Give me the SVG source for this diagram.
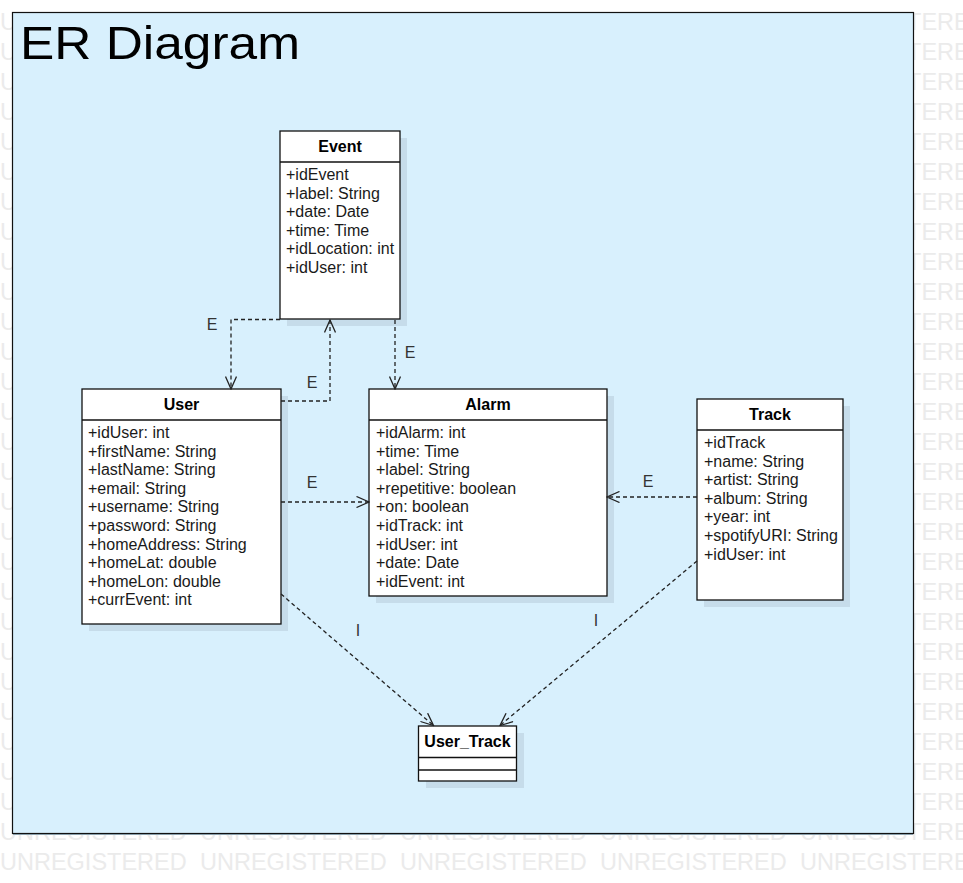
<svg xmlns="http://www.w3.org/2000/svg" xmlns:xlink="http://www.w3.org/1999/xlink" width="963" height="883" viewBox="0 0 963 883">
<style>
.wm{font-family:"Liberation Sans",Arial,sans-serif;font-size:23.5px;fill:#ebebeb}
.title{font-family:"Liberation Sans",Arial,sans-serif;font-size:47px;fill:#000}
.hdr{font-family:"Liberation Sans",Arial,sans-serif;font-size:16px;font-weight:bold;fill:#000;text-anchor:middle}
.att{font-family:"Liberation Sans",Arial,sans-serif;font-size:16px;fill:#1a1a1a}
.lbl{font-family:"Liberation Sans",Arial,sans-serif;font-size:16px;fill:#333;text-anchor:middle}
.box{fill:#fff;stroke:#111;stroke-width:1.3}
.div{stroke:#111;stroke-width:1.3;fill:none}
.sh{fill:#c6dcea}
.con{fill:none;stroke:#222;stroke-width:1.3;stroke-dasharray:4 3}
.ah{fill:none;stroke:#222;stroke-width:1.3;stroke-dasharray:none}
</style>
<defs>
<marker id="open" viewBox="0 0 14 12" refX="13" refY="6" markerWidth="14" markerHeight="12" markerUnits="userSpaceOnUse" orient="auto">
<path class="ah" d="M0.5,0.5 L13,6 L0.5,11.5"/>
</marker>
<g id="wmrow">
<text class="wm" x="0" y="0">UNREGISTERED</text>
<text class="wm" x="200" y="0">UNREGISTERED</text>
<text class="wm" x="400" y="0">UNREGISTERED</text>
<text class="wm" x="600" y="0">UNREGISTERED</text>
<text class="wm" x="800" y="0">UNREGISTERED</text>
</g>
</defs>
<rect x="0" y="0" width="963" height="883" fill="#fff"/>
<g id="watermark">
<use xlink:href="#wmrow" y="30"/><use xlink:href="#wmrow" y="60"/><use xlink:href="#wmrow" y="90"/><use xlink:href="#wmrow" y="120"/><use xlink:href="#wmrow" y="150"/><use xlink:href="#wmrow" y="180"/><use xlink:href="#wmrow" y="210"/><use xlink:href="#wmrow" y="240"/><use xlink:href="#wmrow" y="270"/><use xlink:href="#wmrow" y="300"/><use xlink:href="#wmrow" y="330"/><use xlink:href="#wmrow" y="360"/><use xlink:href="#wmrow" y="390"/><use xlink:href="#wmrow" y="420"/><use xlink:href="#wmrow" y="450"/><use xlink:href="#wmrow" y="480"/><use xlink:href="#wmrow" y="510"/><use xlink:href="#wmrow" y="540"/><use xlink:href="#wmrow" y="570"/><use xlink:href="#wmrow" y="600"/><use xlink:href="#wmrow" y="630"/><use xlink:href="#wmrow" y="660"/><use xlink:href="#wmrow" y="690"/><use xlink:href="#wmrow" y="720"/><use xlink:href="#wmrow" y="750"/><use xlink:href="#wmrow" y="780"/><use xlink:href="#wmrow" y="810"/><use xlink:href="#wmrow" y="840"/><use xlink:href="#wmrow" y="870"/>
</g>
<g id="frame">
<rect x="12.5" y="12.5" width="901" height="821" fill="#d8f0fd" stroke="#111" stroke-width="1.2"/>
<line x1="13" y1="834.5" x2="913" y2="834.5" stroke="#8aa0ac" stroke-width="1"/>
<text class="title" x="20" y="59" textLength="280" lengthAdjust="spacingAndGlyphs">ER Diagram</text>
</g>
<g id="shadows">
<rect class="sh" x="287" y="138" width="120" height="188"/>
<rect class="sh" x="89" y="396" width="199" height="235"/>
<rect class="sh" x="376" y="396" width="238" height="207"/>
<rect class="sh" x="704" y="406" width="146" height="201"/>
<rect class="sh" x="426" y="733" width="98" height="55"/>
</g>
<g id="event">
<rect class="box" x="280" y="131" width="120" height="188"/>
<line class="div" x1="280" y1="162" x2="400" y2="162"/>
<text class="hdr" x="340" y="152">Event</text>
<text class="att" x="286" y="180">+idEvent</text>
<text class="att" x="286" y="198.6">+label: String</text>
<text class="att" x="286" y="217.2">+date: Date</text>
<text class="att" x="286" y="235.8">+time: Time</text>
<text class="att" x="286" y="254.4">+idLocation: int</text>
<text class="att" x="286" y="273">+idUser: int</text>
</g>
<g id="user">
<rect class="box" x="82" y="389" width="199" height="235"/>
<line class="div" x1="82" y1="420" x2="281" y2="420"/>
<text class="hdr" x="181.5" y="410">User</text>
<text class="att" x="88" y="438">+idUser: int</text>
<text class="att" x="88" y="456.6">+firstName: String</text>
<text class="att" x="88" y="475.2">+lastName: String</text>
<text class="att" x="88" y="493.8">+email: String</text>
<text class="att" x="88" y="512.4">+username: String</text>
<text class="att" x="88" y="531">+password: String</text>
<text class="att" x="88" y="549.6">+homeAddress: String</text>
<text class="att" x="88" y="568.2">+homeLat: double</text>
<text class="att" x="88" y="586.8">+homeLon: double</text>
<text class="att" x="88" y="605.4">+currEvent: int</text>
</g>
<g id="alarm">
<rect class="box" x="369" y="389" width="238" height="207"/>
<line class="div" x1="369" y1="420" x2="607" y2="420"/>
<text class="hdr" x="488" y="410">Alarm</text>
<text class="att" x="376" y="438">+idAlarm: int</text>
<text class="att" x="376" y="456.6">+time: Time</text>
<text class="att" x="376" y="475.2">+label: String</text>
<text class="att" x="376" y="493.8">+repetitive: boolean</text>
<text class="att" x="376" y="512.4">+on: boolean</text>
<text class="att" x="376" y="531">+idTrack: int</text>
<text class="att" x="376" y="549.6">+idUser: int</text>
<text class="att" x="376" y="568.2">+date: Date</text>
<text class="att" x="376" y="586.8">+idEvent: int</text>
</g>
<g id="track">
<rect class="box" x="697" y="399" width="146" height="201"/>
<line class="div" x1="697" y1="430" x2="843" y2="430"/>
<text class="hdr" x="770" y="420">Track</text>
<text class="att" x="704" y="448">+idTrack</text>
<text class="att" x="704" y="466.6">+name: String</text>
<text class="att" x="704" y="485.2">+artist: String</text>
<text class="att" x="704" y="503.8">+album: String</text>
<text class="att" x="704" y="522.4">+year: int</text>
<text class="att" x="704" y="541">+spotifyURI: String</text>
<text class="att" x="704" y="559.6">+idUser: int</text>
</g>
<g id="user_track">
<rect class="box" x="418.5" y="726" width="98" height="55"/>
<line class="div" x1="418.5" y1="757.5" x2="516.5" y2="757.5"/>
<line class="div" x1="418.5" y1="770" x2="516.5" y2="770"/>
<text class="hdr" x="467.5" y="747">User_Track</text>
</g>
<g id="connectors">
<polyline class="con" points="280,319.5 231,319.5 231,389" marker-end="url(#open)"/>
<text class="lbl" x="212" y="330">E</text>
<polyline class="con" points="281,401 330,401 330,320" marker-end="url(#open)"/>
<text class="lbl" x="312" y="388">E</text>
<line class="con" x1="395" y1="320" x2="395" y2="389" marker-end="url(#open)"/>
<text class="lbl" x="410" y="358">E</text>
<line class="con" x1="281" y1="502" x2="369" y2="502" marker-end="url(#open)"/>
<text class="lbl" x="312" y="488">E</text>
<line class="con" x1="697" y1="497" x2="607" y2="497" marker-end="url(#open)"/>
<text class="lbl" x="648" y="487">E</text>
<line class="con" x1="281" y1="594" x2="433.5" y2="725.5" marker-end="url(#open)"/>
<text class="lbl" x="358" y="636">I</text>
<line class="con" x1="697" y1="561" x2="500" y2="725.5" marker-end="url(#open)"/>
<text class="lbl" x="596" y="626">I</text>
</g>
</svg>
